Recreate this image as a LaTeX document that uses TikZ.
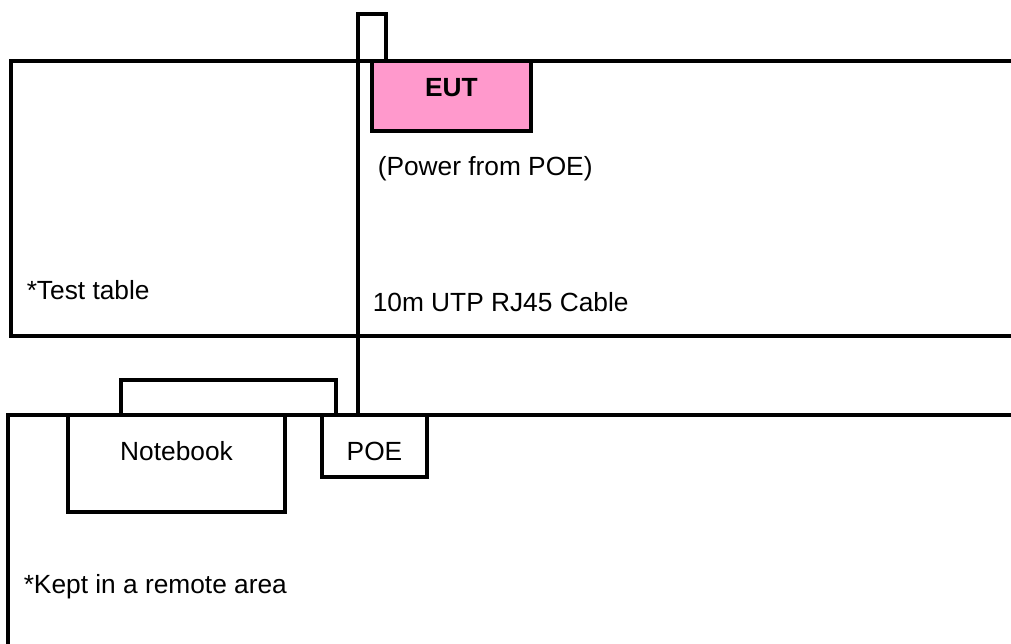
\documentclass[tikz,border=0pt]{standalone}
\usepackage{fontspec}
\setmainfont{Liberation Sans}
\definecolor{eutpink}{RGB}{255,153,204}
\begin{document}
\begin{tikzpicture}[x=1pt,y=-1pt,
  line width=3.5pt,
  box/.style={draw=black, line width=3.5pt, inner sep=0pt, outer sep=0pt},
  lbl/.style={font=\fontsize{26.3}{31}\selectfont, inner sep=0pt, anchor=base west},
  ctr/.style={font=\fontsize{26.3}{31}\selectfont, inner sep=0pt}]
\useasboundingbox[fill=white] (0,0) rectangle (1011,644);
% test table
\draw (1011,61) -- (11,61) -- (11,336) -- (1011,336);
% remote area
\draw (1011,415) -- (8,415) -- (8,644);
% antenna / cable loop
\node[box, minimum width=28pt, minimum height=47pt] (ant) at (372,37.5) {};
% EUT
\node[box, fill=eutpink, minimum width=159pt, minimum height=70pt] (eut) at (451.5,96) {};
\node[ctr, font=\fontsize{26.3}{31}\selectfont\bfseries] (euttxt) at (451.5,88) {EUT};
% notebook
\node[box, minimum width=215pt, minimum height=35pt] (screen) at (228.5,397.5) {};
\node[box, minimum width=217pt, minimum height=97pt] (nb) at (176.5,463.5) {};
\node[ctr] (nbtxt) at (176.5,451) {Notebook};
% POE
\node[box, minimum width=105pt, minimum height=62pt] (poe) at (374.5,446) {};
\node[ctr] (poetxt) at (374.5,451) {POE};
% cable
\draw (ant.north west) -- (ant.north west |- poe.north);
% labels
\node[lbl] (pwr) at (376,176) {(Power from POE)};
\node[lbl] (tt) at (25,299) {*Test table};
\node[lbl] (cab) at (371,311) {10m UTP RJ45 Cable};
\node[lbl] (kept) at (22,593) {*Kept in a remote area};
\end{tikzpicture}
\end{document}
